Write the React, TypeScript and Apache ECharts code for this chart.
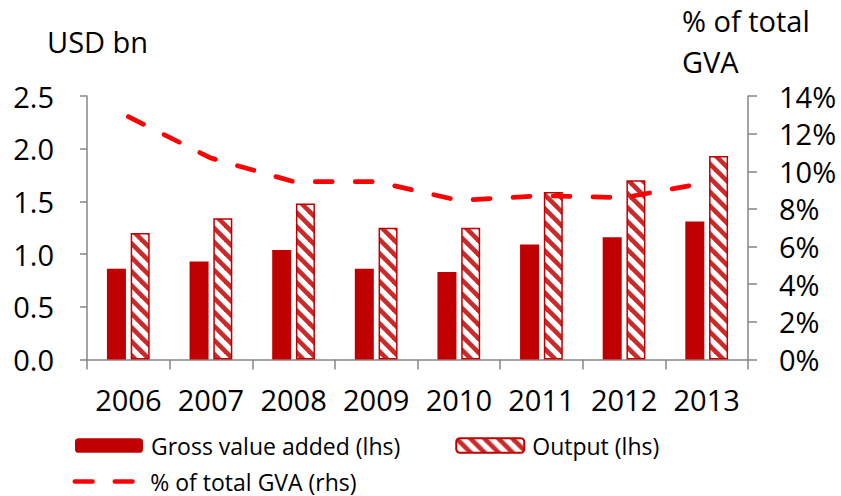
import React, { useEffect, useRef } from "react";
import * as echarts from "echarts";

const years = ["2006", "2007", "2008", "2009", "2010", "2011", "2012", "2013"];
const grossValueAdded = [0.86, 0.93, 1.04, 0.86, 0.83, 1.09, 1.16, 1.31];
const output = [1.2, 1.34, 1.48, 1.25, 1.25, 1.59, 1.7, 1.93];
const shareOfGVA = [12.9, 10.7, 9.45, 9.45, 8.45, 8.7, 8.6, 9.4];
const leftTicks = { min: 0, max: 2.5, interval: 0.5 };
const rightTicks = { min: 0, max: 14, interval: 2 };

const FONT = "Open Sans";

const DASH_ICON =
  "path://M2.35,0 H19.95 A2.35,2.35 0 0 1 19.95,4.7 H2.35 A2.35,2.35 0 0 1 2.35,0 Z " +
  "M42.35,0 H59.95 A2.35,2.35 0 0 1 59.95,4.7 H42.35 A2.35,2.35 0 0 1 42.35,0 Z";

function makeHatch(): HTMLCanvasElement {
  const s = 14;
  const c = document.createElement("canvas");
  c.width = s;
  c.height = s;
  const ctx = c.getContext("2d")!;
  ctx.fillStyle = "#ffffff";
  ctx.fillRect(0, 0, s, s);
  ctx.strokeStyle = "#cc2a2a";
  ctx.lineWidth = 4.6;
  for (const k of [-s, 0, s]) {
    ctx.beginPath();
    ctx.moveTo(k - 2, -2);
    ctx.lineTo(k + s + 2, s + 2);
    ctx.stroke();
  }
  return c;
}

export default function App() {
  const ref = useRef<HTMLDivElement>(null);
  useEffect(() => {
    if (!ref.current) return;
    const chart = echarts.init(ref.current, null, { renderer: "svg" });
    const hatch = makeHatch();
    const axisLineStyle = { color: "#868686", width: 1.5 };
    chart.setOption({
      animation: false,
      textStyle: { fontFamily: FONT },
      grid: { left: 87, right: 93, top: 96, bottom: 136.5, containLabel: false },
      legend: [
        {
          data: ["Gross value added (lhs)", "Output (lhs)"],
          left: 75,
          top: 434,
          itemWidth: 68,
          itemHeight: 14.5,
          itemGap: 55,
          padding: 0,
          textStyle: { fontFamily: FONT, fontSize: 23, color: "#000", padding: [0, 0, 0, 3] },
        },
        {
          data: [
            {
              name: "% of total GVA (rhs)",
              icon: DASH_ICON,
              itemStyle: { color: "#ff0000", borderWidth: 0 },
            },
          ],
          left: 72.5,
          top: 470,
          itemWidth: 62.3,
          itemHeight: 4.7,
          padding: 0,
          textStyle: { fontFamily: FONT, fontSize: 23, color: "#000", padding: [0, 0, 0, 10.5] },
        },
      ],
      graphic: [
        {
          type: "text",
          left: 47,
          top: 27,
          style: { text: "USD bn", fontFamily: FONT, fontSize: 29, fill: "#000" },
        },
        {
          type: "text",
          left: 682,
          top: 0,
          style: {
            text: "% of total\nGVA",
            fontFamily: FONT,
            fontSize: 29,
            lineHeight: 41,
            fill: "#000",
          },
        },
      ],
      xAxis: {
        type: "category",
        data: years,
        axisLine: { lineStyle: axisLineStyle },
        axisTick: { show: true, length: 10, lineStyle: axisLineStyle },
        axisLabel: { fontFamily: FONT, fontSize: 29, color: "#000", margin: 25, interval: 0 },
        splitLine: { show: false },
      },
      yAxis: [
        {
          type: "value",
          min: leftTicks.min,
          max: leftTicks.max,
          interval: leftTicks.interval,
          axisLine: { show: true, lineStyle: axisLineStyle },
          axisTick: { show: true, length: 7, lineStyle: axisLineStyle },
          axisLabel: {
            fontFamily: FONT,
            fontSize: 29,
            color: "#000",
            margin: 33,
            formatter: (v: number) => v.toFixed(1),
          },
          splitLine: { show: false },
        },
        {
          type: "value",
          position: "right",
          min: rightTicks.min,
          max: rightTicks.max,
          interval: rightTicks.interval,
          axisLine: { show: true, lineStyle: axisLineStyle },
          axisTick: { show: true, length: 9, lineStyle: axisLineStyle },
          axisLabel: {
            fontFamily: FONT,
            fontSize: 29,
            color: "#000",
            margin: 31,
            formatter: "{value}%",
          },
          splitLine: { show: false },
        },
      ],
      series: [
        {
          name: "Gross value added (lhs)",
          type: "bar",
          data: grossValueAdded,
          barWidth: 19,
          barGap: "25%",
          itemStyle: { color: "#c00000" },
        },
        {
          name: "Output (lhs)",
          type: "bar",
          data: output,
          barWidth: 19,
          barGap: "25%",
          itemStyle: {
            color: { image: hatch, repeat: "repeat" },
            borderColor: "#c00000",
            borderWidth: 1.5,
          },
        },
        {
          name: "% of total GVA (rhs)",
          type: "line",
          yAxisIndex: 1,
          data: shareOfGVA,
          symbol: "none",
          showSymbol: false,
          z: 5,
          lineStyle: { color: "#ff0000", width: 4.7, type: [17, 23], cap: "round" },
          itemStyle: { color: "#ff0000" },
        },
      ],
    });
    return () => chart.dispose();
  }, []);
  return <div ref={ref} style={{ width: 841, height: 496, position: "absolute", left: 0, top: 0 }} />;
}
